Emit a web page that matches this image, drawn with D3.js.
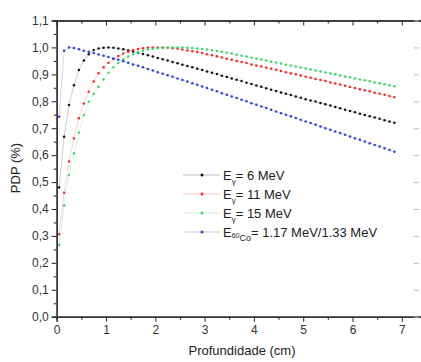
<!DOCTYPE html>
<html><head><meta charset="utf-8">
<script src="https://cdn.jsdelivr.net/npm/d3@7"></script>
<style>
html,body{margin:0;padding:0;background:#fff;}
svg{display:block;font-family:"Liberation Sans",Arial,sans-serif;}
</style></head>
<body><svg id="c" width="421" height="362"></svg>
<script>
// depths (cm): 0.05, 0.15, ..., 6.85
const depth = d3.range(69).map(i => +(0.05 + 0.1 * i).toFixed(2));
const pdp6 = [0.48,0.668,0.786,0.86,0.916,0.951,0.975,0.99,0.996,0.999,1.0,0.999,0.996,
  0.993,0.989,0.985,0.98,0.976,0.971,0.966,0.961,0.956,0.951,0.946,0.941,0.936,0.931,0.926,0.921,
  0.916,0.911,0.906,0.901,0.895,0.89,0.885,0.88,0.875,0.869,0.864,0.859,0.854,0.848,0.843,0.838,0.833,0.828,0.823,
  0.818,0.813,0.808,0.803,0.799,0.794,0.789,0.784,0.779,0.774,0.769,0.764,0.759,0.754,0.749,0.744,0.74,0.735,0.73,0.725,0.72];
const pdp11 = [0.306,0.46,0.576,0.662,0.737,0.792,0.835,0.873,0.904,0.926,
  0.943,0.957,0.968,0.977,0.984,0.99,0.994,0.997,0.999,1.0,
  1.0,1.0,0.999,0.997,0.995,0.992,0.989,0.986,0.983,0.979,
  0.975,0.971,0.967,0.963,0.958,0.954,0.95,0.946,0.942,0.937,0.933,0.929,0.925,0.921,0.917,0.912,0.908,0.904,
  0.9,0.896,0.891,0.887,0.883,0.879,0.875,0.87,0.866,0.862,0.858,0.853,0.849,0.845,0.841,0.837,0.832,0.828,0.824,0.82,0.815];
const pdp15 = [0.266,0.413,0.526,0.607,0.683,0.749,0.798,0.827,0.854,0.881,
  0.906,0.926,0.942,0.955,0.966,0.975,0.982,0.988,0.992,0.995,
  0.997,0.999,1.0,1.0,1.0,1.0,0.999,0.998,0.996,0.994,0.992,0.99,
  0.987,0.984,0.98,0.977,0.973,0.969,0.966,0.962,0.958,0.955,0.951,0.947,0.944,0.94,0.936,0.933,0.929,0.925,0.922,0.918,
  0.914,0.911,0.907,0.903,0.9,0.896,0.892,0.889,0.885,0.881,0.878,0.874,0.87,0.867,0.863,0.86,0.856];
const pdpCo = [0.743,0.988,1.0,0.998,0.993,0.988,0.984,0.979,0.974,0.969,
  0.964,0.959,0.954,0.949,0.943,0.937,0.932,0.926,0.92,0.914,
  0.908,0.902,0.897,0.891,0.885,0.879,0.873,0.867,0.861,0.855,
  0.849,0.843,0.837,0.83,0.824,0.818,0.812,0.806,0.8,0.793,
  0.787,0.781,0.775,0.769,0.762,0.756,0.75,0.744,0.738,0.731,
  0.725,0.719,0.713,0.706,0.7,0.694,0.688,0.682,0.676,0.669,
  0.663,0.657,0.651,0.644,0.638,0.632,0.626,0.619,0.613];
const seriesNames = ["6 MeV", "11 MeV", "15 MeV", "60Co"];
const seriesColors = ["#111111", "#ee2a2a", "#3fd36a", "#2f3fd0"];
const xTicks = [0,1,2,3,4,5,6,7];
const yTicks = [0,0.1,0.2,0.3,0.4,0.5,0.6,0.7,0.8,0.9,1.0,1.1];
const yTickLabels = ["0,0","0,1","0,2","0,3","0,4","0,5","0,6","0,7","0,8","0,9","1,0","1,1"];

const svg = d3.select("#c");
const L = 56.7, T = 20.5, B = 316.7;
const x = d3.scaleLinear().domain([0, 7.5]).range([L, L + 49.3 * 7.5]);
const y = d3.scaleLinear().domain([0, 1.1]).range([B, T]);
const axisCol = "#333";

// series
const allSeries = [pdp6, pdp11, pdp15, pdpCo];
const line = d3.line().x((d, i) => x(depth[i])).y(d => y(d));
allSeries.forEach((s, k) => {
  const g = svg.append("g");
  g.append("path").datum(s).attr("d", line).attr("fill", "none")
    .attr("stroke", seriesColors[k]).attr("stroke-opacity", 0.3).attr("stroke-width", 0.7);
  g.selectAll("circle").data(s).join("circle")
    .attr("cx", (d, i) => x(depth[i])).attr("cy", d => y(d)).attr("r", 1.25)
    .attr("fill", seriesColors[k]);
});

// axes
function styleAxis(g) {
  g.selectAll("path.domain").attr("stroke", axisCol).attr("stroke-width", 1.4);
  g.selectAll(".tick line").attr("stroke", axisCol).attr("stroke-width", 1.1);
  g.selectAll("text").attr("fill", "#333").style("font-size", "12px")
    .style("font-family", '"Liberation Sans",Arial,sans-serif');
}
// bottom minor
const gxm = svg.append("g").attr("transform", `translate(0,${B})`)
  .call(d3.axisBottom(x).tickValues(d3.range(0.5, 7.6, 1)).tickSize(3).tickFormat(""));
styleAxis(gxm);
const gx = svg.append("g").attr("transform", `translate(0,${B})`)
  .call(d3.axisBottom(x).tickValues(xTicks).tickSize(5).tickPadding(4).tickFormat(d3.format("d")));
styleAxis(gx);
// top (inward)
const gtm = svg.append("g").attr("transform", `translate(0,${T})`)
  .call(d3.axisBottom(x).tickValues(d3.range(0.5, 7.6, 1)).tickSize(3).tickFormat(""));
styleAxis(gtm);
const gt = svg.append("g").attr("transform", `translate(0,${T})`)
  .call(d3.axisBottom(x).tickValues(xTicks).tickSize(5).tickFormat(""));
styleAxis(gt);
// left
const gym = svg.append("g").attr("transform", `translate(${L},0)`)
  .call(d3.axisLeft(y).tickValues(d3.range(0.05, 1.1, 0.1)).tickSize(3).tickFormat(""));
styleAxis(gym);
const gy = svg.append("g").attr("transform", `translate(${L},0)`)
  .call(d3.axisLeft(y).tickValues(yTicks).tickSize(5).tickPadding(3)
    .tickFormat((d, i) => yTickLabels[i]));
styleAxis(gy);
// right edge ticks (inward, axis line beyond frame)
const gr = svg.append("g").attr("transform", `translate(419,0)`)
  .call(d3.axisLeft(y).tickValues(yTicks).tickSize(5).tickFormat(""));
gr.select("path.domain").remove();
gr.selectAll(".tick line").attr("stroke", "#bbb").attr("stroke-width", 1);

// axis titles
svg.append("text").attr("x", 242).attr("y", 355).attr("text-anchor", "middle")
  .style("font-size", "13px").attr("fill", "#222").text("Profundidade (cm)");
svg.append("text").attr("transform", "translate(20,168) rotate(-90)").attr("text-anchor", "middle")
  .style("font-size", "13px").attr("fill", "#222").text("PDP (%)");

// legend
const legY = [175, 194, 213, 232];
const leg = svg.append("g");
seriesNames.forEach((n, k) => {
  const gg = leg.append("g").attr("transform", `translate(0,${legY[k]})`);
  gg.append("line").attr("x1", 183).attr("x2", 220).attr("y1", 0).attr("y2", 0)
    .attr("stroke", seriesColors[k]).attr("stroke-opacity", 0.35).attr("stroke-width", 0.8);
  gg.append("circle").attr("cx", 202).attr("cy", 0).attr("r", 1.5).attr("fill", seriesColors[k]);
  const t = gg.append("text").attr("x", 223).attr("y", 4.5).style("font-size", "13px").attr("fill", "#222");
  t.append("tspan").text("E");
  if (k < 3) {
    t.append("tspan").attr("dy", 4).style("font-size", "8px").text("γ");
    t.append("tspan").attr("dy", -4).text("= " + n);
  } else {
    t.append("tspan").attr("dy", 1).style("font-size", "7px").text("60");
    t.append("tspan").attr("dy", 3).style("font-size", "9px").text("Co");
    t.append("tspan").attr("dy", -4).text("= 1.17 MeV/1.33 MeV");
  }
});
</script></body></html>
